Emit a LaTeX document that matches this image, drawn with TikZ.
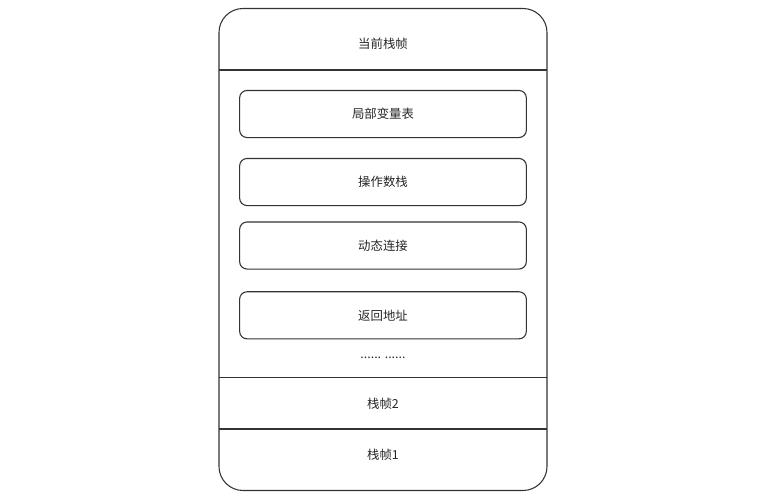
\documentclass[tikz,border=0pt]{standalone}
\usepackage{fontspec}
\setmainfont{Noto Sans CJK SC}
\usepackage{tikz}

\begin{document}
\begin{tikzpicture}[x=0.75pt, y=-0.75pt, every node/.style={font=\fontsize{9.3}{11}\selectfont, text=black!85}]

% Define styles for parts
\tikzstyle{frame} = [draw=black!80, line width=0.8pt, rounded corners=18pt]
\tikzstyle{divider} = [draw=black!80, line width=0.8pt]
\tikzstyle{slot} = [draw=black!80, line width=0.8pt, rounded corners=5.5pt, minimum width=215pt, minimum height=35.3pt, inner sep=0pt]

\useasboundingbox (0,0) rectangle (776,500);

% Outer stack frame
\draw[frame] (219,8.5) rectangle (547,490.5);
\coordinate (topL) at (219,70);
\coordinate (topR) at (547,70);
\coordinate (midL) at (219,377.5);
\coordinate (midR) at (547,377.5);
\coordinate (botL) at (219,429);
\coordinate (botR) at (547,429);
\draw[divider] (topL) -- (topR);
\draw[divider] (midL) -- (midR);
\draw[divider] (botL) -- (botR);

% Current frame title
\node (current) at (383,44) {当前栈帧};

% Parts of the current frame
\node[slot] (locals) at (383,114) {局部变量表};
\node[slot] (operand) at (383,182) {操作数栈};
\node[slot] (dynlink) at (383,245.5) {动态连接};
\node[slot] (retaddr) at (383,315.3) {返回地址};
\node (more) at (383,358) {...... ......};

% Older frames
\node (frame2) at (383,403.5) {栈帧2};
\node (frame1) at (383,455) {栈帧1};

\end{tikzpicture}
\end{document}
